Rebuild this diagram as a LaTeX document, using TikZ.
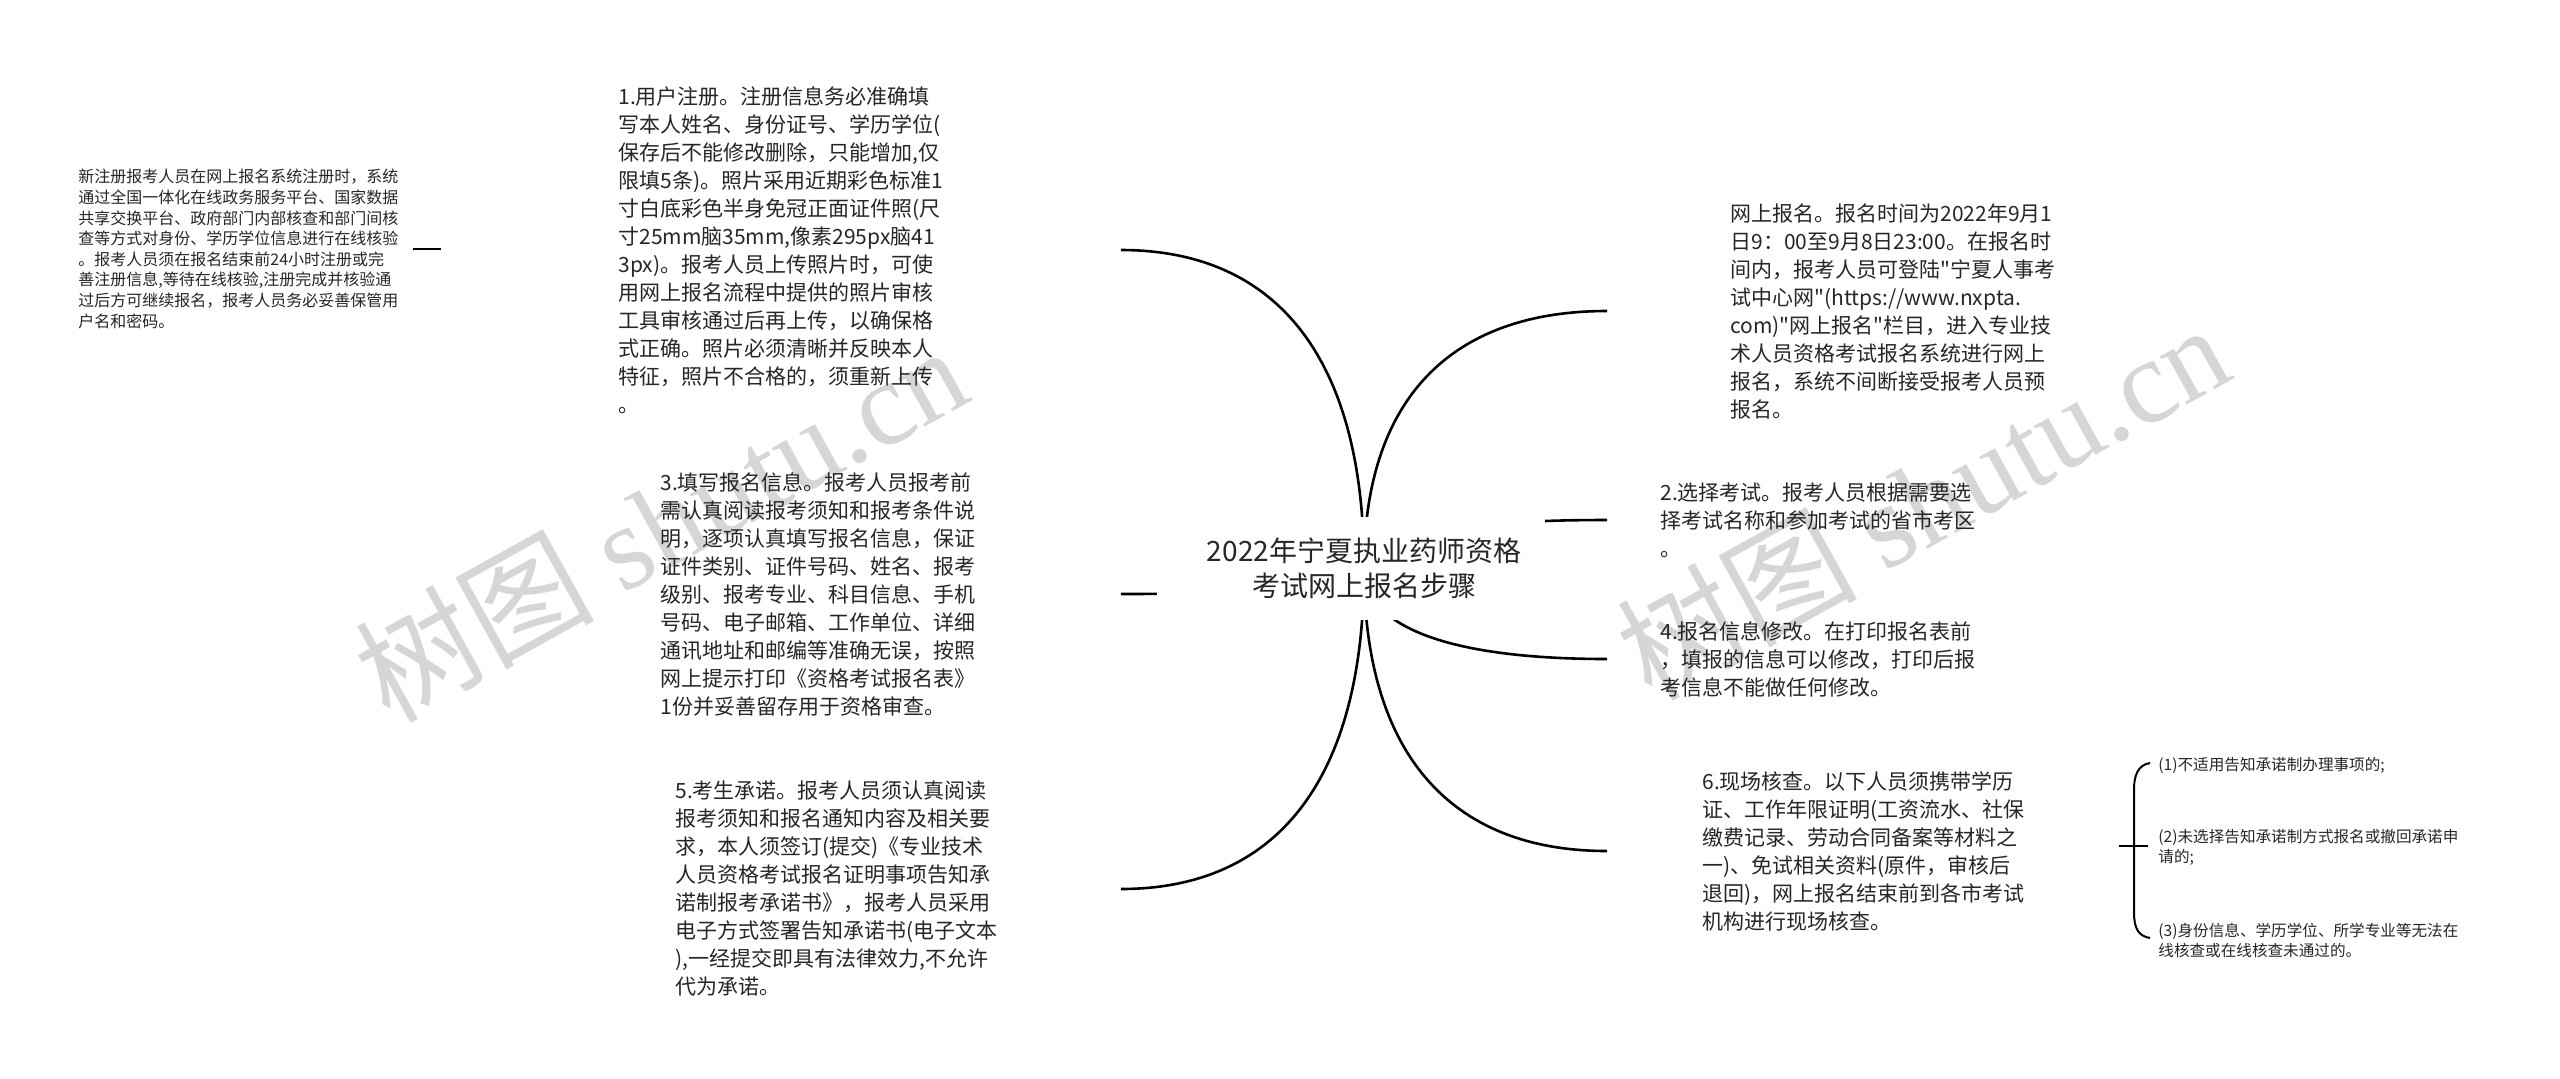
\documentclass[tikz,border=0pt]{standalone}
\usepackage{fontspec}
\setmainfont{Noto Sans CJK SC}[Ligatures=TeXOff]
\newfontfamily\wmlatin{Liberation Serif}
\newfontfamily\wmcjk{Noto Sans CJK SC}
\usetikzlibrary{calc,backgrounds}
\definecolor{txt}{HTML}{262626}
\definecolor{wmgray}{HTML}{D6D6D6}
\begin{document}
\begin{tikzpicture}[x=0.5pt,y=-0.5pt,
  body/.style={font=\fontsize{10.5pt}{14pt}\selectfont, align=left, inner ysep=0pt, inner xsep=0pt, text=txt, anchor=west},
  small/.style={font=\fontsize{8pt}{10.3pt}\selectfont, align=left, inner sep=0pt, text=txt, anchor=west},
  tiny/.style={font=\fontsize{7.8pt}{10pt}\selectfont, align=left, inner sep=0pt, text=txt, anchor=west},
  rootstyle/.style={font=\fontsize{14pt}{17.5pt}\selectfont, align=center, inner sep=0pt, text=txt},
  link/.style={line width=1.3pt, draw=black},
  brace/.style={line width=1pt, draw=black},
  wm/.style={text=wmgray, inner sep=0pt}
]
\useasboundingbox (0,0) rectangle (2560,1078);

% watermarks
\node[wm, rotate=29] (wm1) at (660,522) {\fontsize{60pt}{64pt}\selectfont\wmcjk 树图 \wmlatin shutu.cn};
\node[wm, rotate=29] (wm2) at (1922,500) {\fontsize{60pt}{64pt}\selectfont\wmcjk 树图 \wmlatin shutu.cn};

% root
\node[rootstyle] (root) at (1364,568) {2022年宁夏执业药师资格\\考试网上报名步骤};

% left branches
\node[body, text width=251pt] (n1) at (618,250) {1.用户注册。注册信息务必准确填\\写本人姓名、身份证号、学历学位(\\保存后不能修改删除，只能增加,仅\\限填5条)。照片采用近期彩色标准1\\寸白底彩色半身免冠正面证件照(尺\\寸25mm脑35mm,像素295px脑41\\3px)。报考人员上传照片时，可使\\用网上报名流程中提供的照片审核\\工具审核通过后再上传，以确保格\\式正确。照片必须清晰并反映本人\\特征，照片不合格的，须重新上传\\。};
\node[body, text width=230pt] (n3) at (660,594) {3.填写报名信息。报考人员报考前\\需认真阅读报考须知和报考条件说\\明，逐项认真填写报名信息，保证\\证件类别、证件号码、姓名、报考\\级别、报考专业、科目信息、手机\\号码、电子邮箱、工作单位、详细\\通讯地址和邮编等准确无误，按照\\网上提示打印《资格考试报名表》\\1份并妥善留存用于资格审查。};
\node[body, text width=222.5pt] (n5) at (675,889) {5.考生承诺。报考人员须认真阅读\\报考须知和报名通知内容及相关要\\求，本人须签订(提交)《专业技术\\人员资格考试报名证明事项告知承\\诺制报考承诺书》，报考人员采用\\电子方式签署告知承诺书(电子文本\\),一经提交即具有法律效力,不允许\\代为承诺。};

% leaf of node 1
\node[small, text width=167pt] (leaf) at (78,249) {新注册报考人员在网上报名系统注册时，系统\\通过全国一体化在线政务服务平台、国家数据\\共享交换平台、政府部门内部核查和部门间核\\查等方式对身份、学历学位信息进行在线核验\\。报考人员须在报名结束前24小时注册或完\\善注册信息,等待在线核验,注册完成并核验通\\过后方可继续报名，报考人员务必妥善保管用\\户名和密码。};
\coordinate (n1in) at (441,249);

% right branches
\node[body, inner xsep=61.5pt] (n0) at (1607,311) {网上报名。报名时间为2022年9月1\\日9：00至9月8日23:00。在报名时\\间内，报考人员可登陆"宁夏人事考\\试中心网"(https://www.nxpta.\\com)"网上报名"栏目，进入专业技\\术人员资格考试报名系统进行网上\\报名，系统不间断接受报考人员预\\报名。};
\node[body, inner xsep=26.5pt] (n2) at (1607,520) {2.选择考试。报考人员根据需要选\\择考试名称和参加考试的省市考区\\。};
\node[body, inner xsep=26.5pt] (n4) at (1607,659) {4.报名信息修改。在打印报名表前\\，填报的信息可以修改，打印后报\\考信息不能做任何修改。};
\node[body, inner xsep=47.5pt] (n6) at (1607,851) {6.现场核查。以下人员须携带学历\\证、工作年限证明(工资流水、社保\\缴费记录、劳动合同备案等材料之\\一)、免试相关资料(原件，审核后\\退回)，网上报名结束前到各市考试\\机构进行现场核查。};

% children of node 6
\node[tiny] (c1) at (2158,765) {(1)不适用告知承诺制办理事项的;};
\node[tiny] (c2) at (2158,847) {(2)未选择告知承诺制方式报名或撤回承诺申\\请的;};
\node[tiny] (c3) at (2158,940) {(3)身份信息、学历学位、所学专业等无法在\\线核查或在线核查未通过的。};
\coordinate (b6) at (2119,846);
\coordinate (btop) at (2150,763);
\coordinate (bbot) at (2150,938);

\begin{pgfonlayer}{background}
\fill[white] (0,0) rectangle (2560,1078);
% connectors from root
\draw[link] (root.center) .. controls (1364,361) and (1279,250) .. (n1.east);
\draw[link] (root.center) .. controls (1364,585) and (1279,594) .. (n3.east);
\draw[link] (root.center) .. controls (1364,777) and (1279,889) .. (n5.east);
\draw[link] (root.center) .. controls (1364,401) and (1449,311) .. (n0.west);
\draw[link] (root.center) .. controls (1364,537) and (1449,520) .. (n2.west);
\draw[link] (root.center) .. controls (1364,627) and (1449,659) .. (n4.west);
\draw[link] (root.center) .. controls (1364,752) and (1449,851) .. (n6.west);
% mask under root
\fill[white] (1157,517) rectangle (1545,620);
\end{pgfonlayer}

% leaf connector
\draw[link] (leaf.east) -- (n1in);
% bracket of node 6
\draw[brace] (b6) -- ++(29,0);
\draw[brace] (btop) .. controls (2138,765) and (2134,775) .. (2134,790) -- (2134,912) .. controls (2134,928) and (2138,936) .. (bbot);
\end{tikzpicture}
\end{document}
